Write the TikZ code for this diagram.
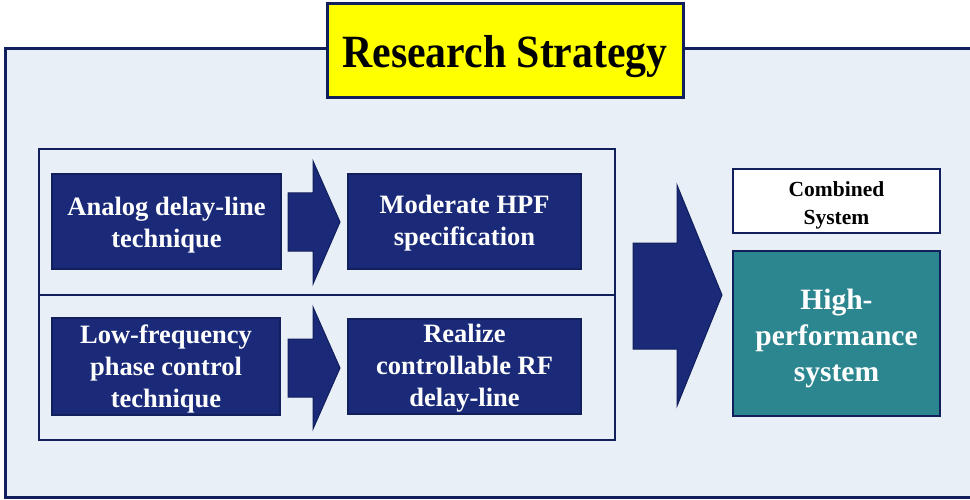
\documentclass[tikz,border=0pt]{standalone}
\usepackage{fontspec}
\setmainfont{Liberation Serif}
\begin{document}
\definecolor{panel}{HTML}{E9EFF7}
\definecolor{navy}{HTML}{1A2A78}
\definecolor{edge}{HTML}{111F5C}
\definecolor{teal}{HTML}{2C868F}
\definecolor{titlefill}{HTML}{FFFF00}
\tikzset{
  stepbox/.style={draw=edge, line width=2pt, fill=navy, inner sep=0pt},
  steptext/.style={text=white, align=center, inner sep=0pt,
    font=\fontsize{26.5}{32}\selectfont\bfseries},
  flowarrow/.style={draw=edge, line width=1pt, fill=navy, line join=miter},
}
\begin{tikzpicture}[x=1pt, y=-1pt]
\useasboundingbox (0,0) rectangle (970,500);
% outer panel
\draw[draw=edge, line width=3pt, fill=panel] (5,49) rectangle (990,497);
% title
\node[draw=edge, line width=3pt, fill=titlefill, minimum width=356pt, minimum height=94pt, inner sep=0pt]
  (title) at (505,51) {};
\node[inner sep=0pt, font=\fontsize{44}{48}\selectfont\bfseries] (titletext) at (505,57)
  {\scalebox{0.95}[1.05]{Research Strategy}};
% left group with its divider
\draw[draw=edge, line width=2.5pt] (39,149) rectangle (615,440);
\coordinate (divl) at (39,295);
\coordinate (divr) at (615,295);
\draw[draw=edge, line width=2.5pt] (divl) -- (divr);
% step boxes
\node[stepbox, minimum width=229pt, minimum height=94pt] (analog) at (166.5,221.5) {};
\node[steptext] (analogtext) at (166.5,225) {Analog delay-line\\technique};
\node[stepbox, minimum width=233pt, minimum height=95pt] (hpf) at (464.5,221.5) {};
\node[steptext] (hpftext) at (464.5,223.5) {Moderate HPF\\specification};
\node[stepbox, minimum width=228pt, minimum height=97pt] (lowf) at (166,366.5) {};
\node[steptext] (lowftext) at (166,368.5) {Low-frequency\\phase control\\technique};
\node[stepbox, minimum width=233pt, minimum height=95pt] (rf) at (464.5,366.5) {};
\node[steptext] (rftext) at (464.5,368.5) {Realize\\controllable RF\\delay-line};
% small block arrows
\draw[flowarrow] (288,193) -- (313,193) -- (313,161) -- (340,222) -- (313,284) -- (313,251) -- (288,251) -- cycle;
\draw[flowarrow] (288,339) -- (313,339) -- (313,307) -- (340,368) -- (313,429) -- (313,397) -- (288,397) -- cycle;
% large block arrow
\draw[flowarrow] (633,243) -- (677,243) -- (677,185) -- (722,295) -- (677,406) -- (677,349) -- (633,349) -- cycle;
% result boxes
\node[draw=edge, line width=2pt, fill=white, minimum width=207pt, minimum height=64pt, inner sep=0pt]
  (comb) at (836.5,201) {};
\node[align=center, inner sep=0pt, font=\fontsize{21.5}{28}\selectfont\bfseries] (combtext) at (836.5,205)
  {Combined\\System};
\node[draw=edge, line width=2pt, fill=teal, minimum width=207pt, minimum height=165pt, inner sep=0pt]
  (hps) at (836.5,333.5) {};
\node[text=white, align=center, inner sep=0pt, font=\fontsize{29.5}{36}\selectfont\bfseries] (hpstext) at (836.5,338.5)
  {High-\\performance\\system};
\end{tikzpicture}
\end{document}
